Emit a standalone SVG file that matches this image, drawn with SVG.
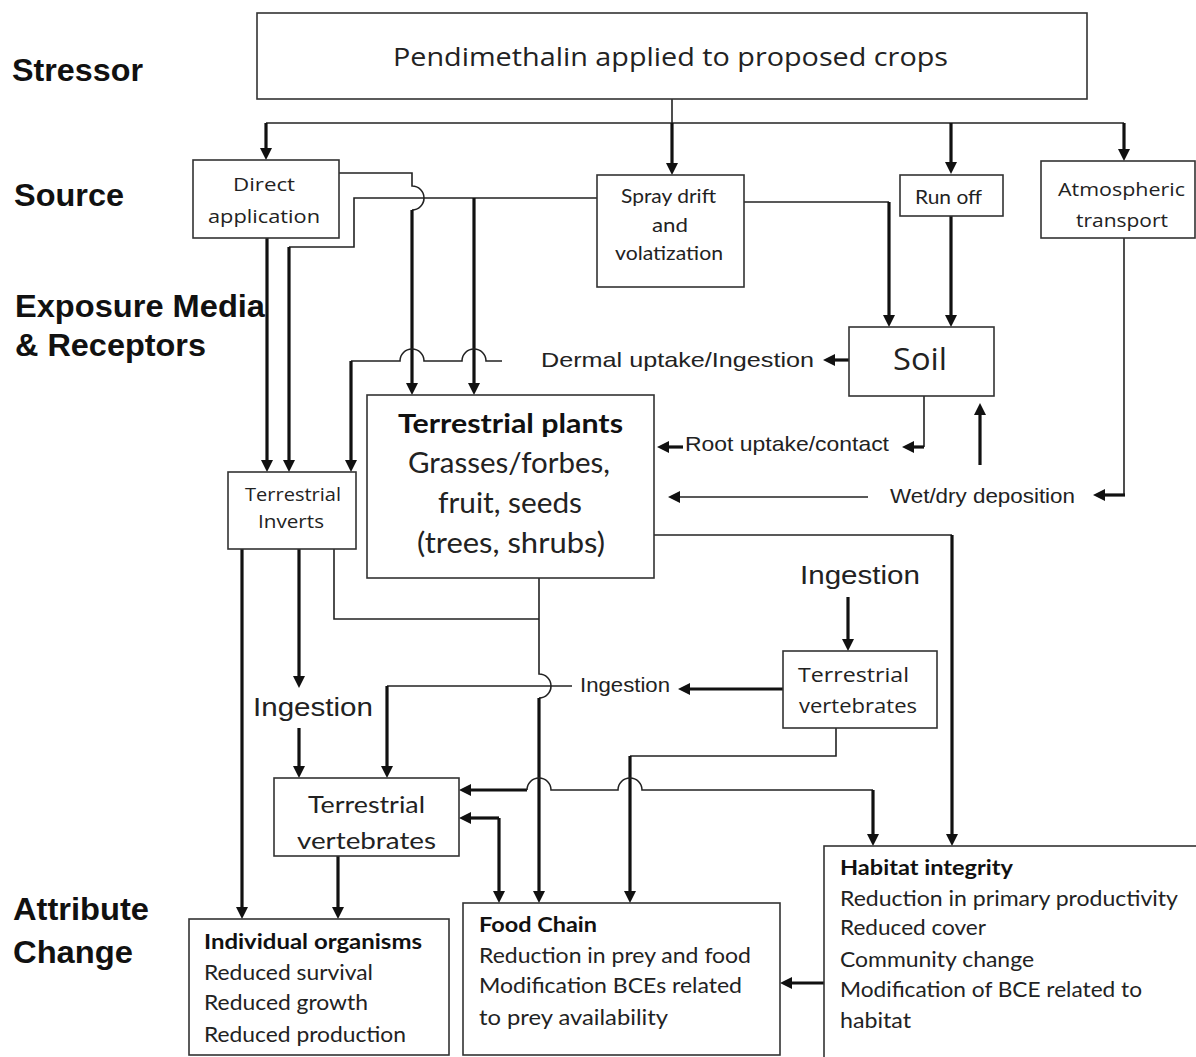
<svg xmlns="http://www.w3.org/2000/svg" width="1196" height="1057" viewBox="0 0 1196 1057">
<defs>
<style>
.box{fill:#fff;stroke:#333;stroke-width:1.6}
.thin{fill:none;stroke:#222;stroke-width:1.6}
.thick{fill:none;stroke:#111;stroke-width:3.2}
.arr{marker-end:url(#ah)}
.lbl{font-family:"Liberation Sans",Arial,sans-serif;font-weight:bold;font-size:32px;fill:#111}
.ar{font-family:"Liberation Sans",Arial,sans-serif;fill:#222}
.op{font-family:"Open Sans",sans-serif;fill:#222}
.la{font-family:Lato,"Open Sans",sans-serif;fill:#222}
.b{font-weight:bold;fill:#111}
</style>
<marker id="ah" viewBox="0 0 12 12" refX="2" refY="6" markerWidth="12" markerHeight="12" markerUnits="userSpaceOnUse" orient="auto">
<path d="M0,0 L12,6 L0,12 z" fill="#111"/>
</marker>
</defs>
<rect width="1196" height="1057" fill="#fff"/>

<g id="row-labels">
<text class="lbl" x="12" y="81" textLength="131" lengthAdjust="spacingAndGlyphs">Stressor</text>
<text class="lbl" x="14" y="206" textLength="110" lengthAdjust="spacingAndGlyphs">Source</text>
<text class="lbl" x="15" y="317" textLength="250" lengthAdjust="spacingAndGlyphs">Exposure Media</text>
<text class="lbl" x="15" y="356" textLength="191" lengthAdjust="spacingAndGlyphs">&amp; Receptors</text>
<text class="lbl" x="13" y="920" textLength="136" lengthAdjust="spacingAndGlyphs">Attribute</text>
<text class="lbl" x="13" y="963" textLength="120" lengthAdjust="spacingAndGlyphs">Change</text>
</g>

<g id="connectors">
<path class="thin" d="M266,123 H1124"/>
<path class="thick arr" d="M266,123 V150"/>
<path class="thin" d="M672,99 V123"/>
<path class="thick arr" d="M672,123 V165"/>
<path class="thick arr" d="M951,123 V164"/>
<path class="thick arr" d="M1124,123 V151"/>

<path class="thin" d="M339,173 H412 V186 a12,12 0 0 1 0,24"/>
<path class="thick arr" d="M412,210 V385"/>
<path class="thin" d="M597,198 H354 V247 H289"/>
<path class="thick arr" d="M289,247 V462"/>
<path class="thick arr" d="M474,198 V385"/>
<path class="thick arr" d="M267,238 V462"/>

<path class="thin" d="M502,361 H486 a12,12 0 0 0 -24,0 H424 a12,12 0 0 0 -24,0 H351"/>
<path class="thick arr" d="M351,361 V462"/>

<path class="thin" d="M744,202 H889"/>
<path class="thick arr" d="M889,202 V317"/>
<path class="thick arr" d="M951,216 V317"/>
<path class="thick arr" d="M849,360 H833"/>
<path class="thin" d="M924,396 V447"/>
<path class="thick arr" d="M924,447 H912"/>
<path class="thick arr" d="M683,447 H667"/>
<path class="thin arr" d="M868,497 H678"/>
<path class="thick arr" d="M980,465 V413"/>
<path class="thin" d="M1124,238 V495"/>
<path class="thick arr" d="M1125,495 H1103"/>

<path class="thin" d="M654,535 H952"/>
<path class="thick arr" d="M952,535 V836"/>
<path class="thin" d="M539,578 V674 a12,12 0 0 1 0,24"/>
<path class="thick arr" d="M539,698 V893"/>
<path class="thin" d="M334,549 V619 H539"/>
<path class="thick arr" d="M242,549 V909"/>
<path class="thick arr" d="M299,549 V678"/>
<path class="thick arr" d="M299,728 V768"/>
<path class="thin" d="M572,686 H387"/>
<path class="thick arr" d="M387,686 V768"/>
<path class="thick arr" d="M783,689 H688"/>
<path class="thick arr" d="M848,597 V641"/>
<path class="thin" d="M836,728 V756 H630"/>
<path class="thick arr" d="M630,756 V893"/>
<path class="thick arr" d="M527,790 H469"/>
<path class="thin" d="M527,790 a12,12 0 0 1 24,0 H618 a12,12 0 0 1 24,0 H873"/>
<path class="thick arr" d="M873,790 V836"/>
<path class="thick arr" d="M499,818 H469"/>
<path class="thick arr" d="M499,818 V893"/>
<path class="thick arr" d="M338,856 V909"/>
<path class="thick arr" d="M824,983 H790"/>
</g>

<g id="stressor">
<rect class="box" x="257" y="13" width="830" height="86"/>
<text class="op" x="393" y="66" font-size="26" textLength="555" lengthAdjust="spacingAndGlyphs">Pendimethalin applied to proposed crops</text>
</g>

<g id="direct-application">
<rect class="box" x="193" y="160" width="146" height="78"/>
<text class="op" x="233" y="191" font-size="18" textLength="62" lengthAdjust="spacingAndGlyphs">Direct</text>
<text class="op" x="208" y="223" font-size="18" textLength="112" lengthAdjust="spacingAndGlyphs">application</text>
</g>

<g id="spray-drift">
<rect class="box" x="597" y="175" width="147" height="112"/>
<text class="la" x="621" y="203" font-size="19" textLength="95" lengthAdjust="spacingAndGlyphs">Spray drift</text>
<text class="la" x="652" y="232" font-size="19" textLength="36" lengthAdjust="spacingAndGlyphs">and</text>
<text class="la" x="615" y="260" font-size="19" textLength="108" lengthAdjust="spacingAndGlyphs">volatization</text>
</g>

<g id="run-off">
<rect class="box" x="900" y="175" width="103" height="41"/>
<text class="la" x="915" y="204" font-size="19" textLength="67" lengthAdjust="spacingAndGlyphs">Run off</text>
</g>

<g id="atmospheric-transport">
<rect class="box" x="1041" y="161" width="154" height="77"/>
<text class="op" x="1058" y="196" font-size="18" textLength="127" lengthAdjust="spacingAndGlyphs">Atmospheric</text>
<text class="op" x="1076" y="227" font-size="18" textLength="92" lengthAdjust="spacingAndGlyphs">transport</text>
</g>

<g id="soil">
<rect class="box" x="849" y="327" width="145" height="69"/>
<text class="op" x="893" y="370" font-size="31" textLength="54" lengthAdjust="spacingAndGlyphs">Soil</text>
</g>

<g id="dermal-label">
<text class="ar" x="541" y="367" font-size="21" textLength="273" lengthAdjust="spacingAndGlyphs">Dermal uptake/Ingestion</text>
</g>
<g id="root-label">
<text class="ar" x="685" y="451" font-size="21" textLength="204" lengthAdjust="spacingAndGlyphs">Root uptake/contact</text>
</g>
<g id="deposition-label">
<text class="ar" x="890" y="503" font-size="21" textLength="185" lengthAdjust="spacingAndGlyphs">Wet/dry deposition</text>
</g>

<g id="terrestrial-inverts">
<rect class="box" x="228" y="472" width="128" height="77"/>
<text class="op" x="245" y="501" font-size="18" textLength="96" lengthAdjust="spacingAndGlyphs">Terrestrial</text>
<text class="op" x="258" y="528" font-size="18" textLength="66" lengthAdjust="spacingAndGlyphs">Inverts</text>
</g>

<g id="terrestrial-plants">
<rect class="box" x="367" y="395" width="287" height="183"/>
<text class="la b" x="398" y="433" font-size="26" textLength="225" lengthAdjust="spacingAndGlyphs">Terrestrial plants</text>
<text class="la" x="408" y="473" font-size="28" textLength="202" lengthAdjust="spacingAndGlyphs">Grasses/forbes,</text>
<text class="la" x="438" y="513" font-size="28" textLength="144" lengthAdjust="spacingAndGlyphs">fruit, seeds</text>
<text class="la" x="417" y="553" font-size="28" textLength="188" lengthAdjust="spacingAndGlyphs">(trees, shrubs)</text>
</g>

<g id="ingestion-upper-label">
<text class="ar" x="800" y="584" font-size="26" textLength="120" lengthAdjust="spacingAndGlyphs">Ingestion</text>
</g>

<g id="terrestrial-vertebrates-upper">
<rect class="box" x="783" y="651" width="154" height="77"/>
<text class="op" x="798" y="682" font-size="20" textLength="111" lengthAdjust="spacingAndGlyphs">Terrestrial</text>
<text class="op" x="799" y="713" font-size="20" textLength="118" lengthAdjust="spacingAndGlyphs">vertebrates</text>
</g>

<g id="ingestion-middle-label">
<text class="ar" x="580" y="692" font-size="20" textLength="90" lengthAdjust="spacingAndGlyphs">Ingestion</text>
</g>

<g id="ingestion-lower-label">
<text class="ar" x="253" y="716" font-size="26" textLength="120" lengthAdjust="spacingAndGlyphs">Ingestion</text>
</g>

<g id="terrestrial-vertebrates-lower">
<rect class="box" x="274" y="778" width="185" height="78"/>
<text class="la" x="308" y="813" font-size="24" textLength="117" lengthAdjust="spacingAndGlyphs">Terrestrial</text>
<text class="la" x="297" y="849" font-size="24" textLength="139" lengthAdjust="spacingAndGlyphs">vertebrates</text>
</g>

<g id="individual-organisms">
<rect class="box" x="189" y="919" width="260" height="136"/>
<text class="la b" x="204" y="949" font-size="20" textLength="218" lengthAdjust="spacingAndGlyphs">Individual organisms</text>
<text class="la" x="204" y="980" font-size="21" textLength="169" lengthAdjust="spacingAndGlyphs">Reduced survival</text>
<text class="la" x="204" y="1010" font-size="21" textLength="164" lengthAdjust="spacingAndGlyphs">Reduced growth</text>
<text class="la" x="204" y="1042" font-size="21" textLength="202" lengthAdjust="spacingAndGlyphs">Reduced production</text>
</g>

<g id="food-chain">
<rect class="box" x="463" y="903" width="317" height="152"/>
<text class="la b" x="479" y="932" font-size="20" textLength="118" lengthAdjust="spacingAndGlyphs">Food Chain</text>
<text class="la" x="479" y="963" font-size="21" textLength="272" lengthAdjust="spacingAndGlyphs">Reduction in prey and food</text>
<text class="la" x="479" y="993" font-size="21" textLength="263" lengthAdjust="spacingAndGlyphs">Modification BCEs related</text>
<text class="la" x="479" y="1025" font-size="21" textLength="189" lengthAdjust="spacingAndGlyphs">to prey availability</text>
</g>

<g id="habitat-integrity">
<rect class="box" x="824" y="846" width="400" height="250"/>
<text class="la b" x="840" y="875" font-size="20" textLength="173" lengthAdjust="spacingAndGlyphs">Habitat integrity</text>
<text class="la" x="840" y="906" font-size="21" textLength="338" lengthAdjust="spacingAndGlyphs">Reduction in primary productivity</text>
<text class="la" x="840" y="935" font-size="21" textLength="146" lengthAdjust="spacingAndGlyphs">Reduced cover</text>
<text class="la" x="840" y="967" font-size="21" textLength="194" lengthAdjust="spacingAndGlyphs">Community change</text>
<text class="la" x="840" y="997" font-size="21" textLength="302" lengthAdjust="spacingAndGlyphs">Modification of BCE related to</text>
<text class="la" x="840" y="1028" font-size="21" textLength="71" lengthAdjust="spacingAndGlyphs">habitat</text>
</g>
</svg>
